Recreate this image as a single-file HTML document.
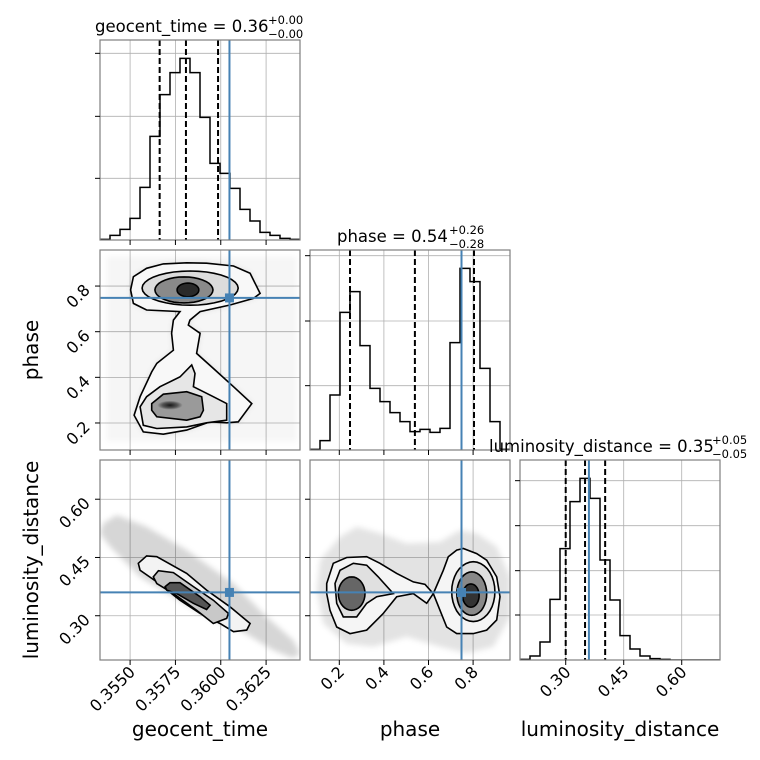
<!DOCTYPE html>
<html><head><meta charset="utf-8"><style>
html,body{margin:0;padding:0;background:#fff;}
svg{display:block;font-family:"DejaVu Sans","Liberation Sans",sans-serif;}
</style></head><body>
<svg id="fig" width="760" height="760" viewBox="0 0 760 760">
<defs>
<filter id="blur4" x="-20%" y="-20%" width="140%" height="140%"><feGaussianBlur stdDeviation="3"/></filter>
<radialGradient id="dens"><stop offset="0" stop-color="#000" stop-opacity="0.85"/><stop offset="0.6" stop-color="#000" stop-opacity="0.45"/><stop offset="1" stop-color="#000" stop-opacity="0"/></radialGradient>
</defs>
</svg>
<script>
// ---------- data ----------
const geoRange=[0.35334,0.36437], phaseRangeX=[0.0686,0.9655], phaseRangeY=[0.0816,0.958], lumRange=[0.1818,0.699], lumRangeY=[0.186,0.701];
const geoCounts=[2,14,32,65,158,311,436,502,545,502,368,230,200,155,92,57,23,14,5,2];
const phaseCounts=[2,28,165,413,475,313,185,145,112,85,55,62,53,65,322,545,505,245,85,2];
const lumCounts=[2,12,54,182,334,475,545,485,300,180,73,33,12,4,2,0,0,0,0,0];
const geoQuant=[0.35663,0.35808,0.35985];
const phaseQuant=[0.248,0.539,0.804];
const lumQuant=[0.300,0.350,0.402];
const truthGeo=0.36048, truthPhase=0.748, truthLum=0.360;
const geoTicks=[0.355,0.3575,0.36,0.3625], geoTickLabels=["0.3550","0.3575","0.3600","0.3625"];
const phaseTicks=[0.2,0.4,0.6,0.8], phaseTickLabels=["0.2","0.4","0.6","0.8"];
const lumTicks=[0.30,0.45,0.60], lumTickLabels=["0.30","0.45","0.60"];
const h1Ticks=[185,371,560], h2Ticks=[193,387,583], h3Ticks=[135,268,403,538];
// contours (data units)
const c21Outer=[[0.35503,0.783],[0.35518,0.841],[0.35591,0.878],[0.35683,0.897],[0.35812,0.902],[0.35922,0.900],[0.36070,0.888],[0.36162,0.856],[0.36217,0.768],[0.36180,0.746],[0.36051,0.717],[0.35886,0.688],[0.35830,0.651],[0.35821,0.629],[0.35886,0.593],[0.35867,0.505],[0.35959,0.439],[0.36070,0.359],[0.36171,0.285],[0.36097,0.205],[0.36033,0.201],[0.35941,0.205],[0.35812,0.169],[0.35683,0.151],[0.35573,0.161],[0.35522,0.234],[0.35555,0.315],[0.35619,0.424],[0.35647,0.461],[0.35739,0.519],[0.35729,0.593],[0.35739,0.651],[0.35775,0.688],[0.35591,0.695],[0.35518,0.724]];
const c21LowMid=[[0.35555,0.271],[0.35591,0.315],[0.35665,0.359],[0.35775,0.402],[0.35840,0.454],[0.35858,0.417],[0.35849,0.359],[0.35959,0.315],[0.36033,0.285],[0.36033,0.212],[0.35922,0.201],[0.35812,0.183],[0.35647,0.176],[0.35573,0.190]];
const c21LowIn=[[0.35619,0.285],[0.35683,0.326],[0.35812,0.337],[0.35895,0.315],[0.35904,0.256],[0.35886,0.227],[0.35812,0.212],[0.35647,0.227],[0.35619,0.256]];
const c21UpEll=[[0.35831,0.791,0.00265,0.075],[0.35797,0.783,0.0016,0.057],[0.35819,0.783,0.0006,0.03]];
const c31Cloud=[[0.35352,0.538],[0.35426,0.559],[0.35591,0.529],[0.35812,0.469],[0.36070,0.383],[0.36253,0.297],[0.36400,0.237],[0.36437,0.203],[0.36400,0.190],[0.36290,0.211],[0.36106,0.263],[0.35959,0.289],[0.35739,0.349],[0.35555,0.400],[0.35389,0.478],[0.35334,0.512]];
const c31Outer=[[0.35545,0.435],[0.35591,0.454],[0.35647,0.452],[0.35812,0.409],[0.35922,0.366],[0.36051,0.323],[0.36162,0.280],[0.36143,0.263],[0.36070,0.259],[0.35996,0.280],[0.35886,0.306],[0.35775,0.340],[0.35647,0.387],[0.35555,0.417]];
const c31Mid=[[0.35628,0.400],[0.35656,0.416],[0.35739,0.411],[0.35849,0.375],[0.35959,0.340],[0.36042,0.306],[0.36033,0.293],[0.35959,0.280],[0.35867,0.314],[0.35739,0.357],[0.35647,0.383]];
const c31In=[[0.35693,0.375],[0.35720,0.385],[0.35775,0.385],[0.35886,0.349],[0.35941,0.327],[0.35922,0.316],[0.35849,0.332],[0.35757,0.357],[0.35702,0.366]];
const c32Cloud=[[0.1134,0.443],[0.2031,0.503],[0.2779,0.529],[0.3825,0.512],[0.5021,0.486],[0.6515,0.490],[0.7413,0.520],[0.8160,0.512],[0.9057,0.478],[0.9655,0.400],[0.9655,0.297],[0.8907,0.220],[0.7712,0.203],[0.6515,0.220],[0.5021,0.246],[0.3526,0.220],[0.2330,0.228],[0.1284,0.280],[0.0985,0.366]];
const c32Outer=[[0.1433,0.383],[0.1732,0.435],[0.2330,0.450],[0.3227,0.452],[0.3825,0.435],[0.4573,0.409],[0.5320,0.387],[0.5843,0.381],[0.6217,0.357],[0.6665,0.417],[0.6889,0.452],[0.7263,0.469],[0.7562,0.473],[0.8160,0.460],[0.8608,0.443],[0.9057,0.400],[0.9206,0.349],[0.9057,0.289],[0.8608,0.263],[0.8010,0.254],[0.7263,0.254],[0.6815,0.271],[0.6515,0.314],[0.6217,0.357],[0.5918,0.332],[0.5320,0.357],[0.4573,0.349],[0.3974,0.306],[0.3227,0.263],[0.2480,0.254],[0.1882,0.271],[0.1583,0.314],[0.1433,0.357]];
const c32LeftMid=[[0.1807,0.383],[0.2031,0.417],[0.2629,0.435],[0.3227,0.430],[0.3750,0.400],[0.4423,0.357],[0.3675,0.349],[0.3227,0.332],[0.2779,0.297],[0.2181,0.297],[0.1882,0.332]];
const c32Ell=[[0.2554,0.357,0.060,0.043],[0.8010,0.362,0.097,0.077],[0.794,0.357,0.067,0.056],[0.790,0.352,0.037,0.030]];

// ---------- helpers ----------
const svg=document.getElementById('fig');
const NS='http://www.w3.org/2000/svg';
function mk(tag,attrs,parent){const e=document.createElementNS(NS,tag);for(const k in attrs)e.setAttribute(k,attrs[k]);(parent||svg).appendChild(e);return e;}
const S=200;
function lin(r,x0,flip){return v=>flip? x0+(r[1]-v)/(r[1]-r[0])*S : x0+(v-r[0])/(r[1]-r[0])*S;}
const panels={h1:[100,40],h2:[310,250],h3:[520,460],c21:[100,250],c31:[100,460],c32:[310,460]};
let clipN=0;
function panelGroup(key,name){
  const [x0,y0]=panels[key];
  const id='clip'+(clipN++);
  const cp=mk('clipPath',{id:id},svg.querySelector('defs'));
  mk('rect',{x:x0,y:y0,width:S,height:S},cp);
  const g=mk('g',{});
  
  
  const inner=mk('g',{'clip-path':'url(#'+id+')'},g);
  return {g,inner,x0,y0};
}
function grid(P,xs,ys,fx,fy){
  xs.forEach(v=>{const l=mk('line',{x1:fx(v),x2:fx(v),y1:P.y0,y2:P.y0+S,stroke:'#b0b0b0','stroke-width':0.8},P.inner);});
  ys.forEach(v=>{const l=mk('line',{y1:fy(v),y2:fy(v),x1:P.x0,x2:P.x0+S,stroke:'#b0b0b0','stroke-width':0.8},P.inner);});
}
function frameTicks(P,xs,ys,fx,fy){
  mk('rect',{x:P.x0,y:P.y0,width:S,height:S,fill:'none',stroke:'#7f7f7f','stroke-width':1.2},P.g);
  xs.forEach(v=>mk('line',{x1:fx(v),x2:fx(v),y1:P.y0+S,y2:P.y0+S+5,stroke:'#000','stroke-width':1},P.g));
  ys.forEach(v=>mk('line',{x1:P.x0-5,x2:P.x0,y1:fy(v),y2:fy(v),stroke:'#000','stroke-width':1},P.g));
}
function xLabels(P,xs,labels,fx,name){
  xs.forEach((v,i)=>{const ax=fx(v)+6, ay=P.y0+S+13;const t=mk('text',{x:ax,y:ay,'font-size':16,'text-anchor':'end',transform:`rotate(-45 ${ax} ${ay})`},P.g);t.textContent=labels[i];});
}
function yLabels(P,ys,labels,fy,name){
  ys.forEach((v,i)=>{const ax=P.x0-9, ay=fy(v)+5;const t=mk('text',{x:ax,y:ay,'font-size':16,'text-anchor':'end',transform:`rotate(-45 ${ax} ${ay})`},P.g);t.textContent=labels[i];});
}
function poly(P,pts,fx,fy,attrs,name){
  const d=pts.map((p,i)=>(i?'L':'M')+fx(p[0]).toFixed(1)+' '+fy(p[1]).toFixed(1)).join(' ')+' Z';
  const e=mk('path',Object.assign({d:d},attrs),P.inner);
  
  
  return e;
}
function ellPts(c){const a=[];for(let k=0;k<36;k++){const t=k/36*2*Math.PI;a.push([c[0]+c[2]*Math.cos(t),c[1]+c[3]*Math.sin(t)]);}return a;}
function hist(P,counts,range,fx,ymax,quants,truth,tickYs,name){
  const fy=v=>P.y0+S-v/ymax*S;
  const n=counts.length;let d='';
  counts.forEach((c,i)=>{const xa=fx(range[0]+(range[1]-range[0])*i/n), xb=fx(range[0]+(range[1]-range[0])*(i+1)/n);d+=(i?'L':'M')+xa+' '+fy(c)+' L'+xb+' '+fy(c)+' ';});
  const e=mk('path',{d:d,fill:'none',stroke:'#000','stroke-width':1.5},P.inner);
  
  
  quants.forEach(q=>{const l=mk('line',{x1:fx(q),x2:fx(q),y1:P.y0,y2:P.y0+S,stroke:'#000','stroke-width':2,'stroke-dasharray':'6 3'},P.inner);});
  const t=mk('line',{x1:fx(truth),x2:fx(truth),y1:P.y0,y2:P.y0+S,stroke:'#4682b4','stroke-width':2},P.inner);
  
  
  return fy;
}
function truthCross(P,fx,fy,tx,ty){
  const a=mk('line',{x1:fx(tx),x2:fx(tx),y1:P.y0,y2:P.y0+S,stroke:'#4682b4','stroke-width':2},P.inner);
  
  const b=mk('line',{y1:fy(ty),y2:fy(ty),x1:P.x0,x2:P.x0+S,stroke:'#4682b4','stroke-width':2},P.inner);
  
  const m=mk('rect',{x:fx(tx)-4.5,y:fy(ty)-4.5,width:9,height:9,fill:'#4682b4'},P.inner);
  
}
function blob(P,fx,fy,c){
  const cx=fx(c[0]),cy=fy(c[1]),rx=Math.abs(fx(c[0]+c[2])-cx),ry=Math.abs(fy(c[1]+c[3])-cy);
  const e=mk('ellipse',{cx:cx,cy:cy,rx:rx,ry:ry,fill:'url(#dens)'},P.inner);
  
}
const CST={stroke:'#000','stroke-width':1.6};

// ---------- h1 geocent hist ----------
{const P=panelGroup('h1','geocent-time-histogram');const fx=lin(geoRange,P.x0);const fyg=v=>P.y0+S-v/600*S;
 grid(P,geoTicks,h1Ticks,fx,fyg);hist(P,geoCounts,geoRange,fx,600,geoQuant,truthGeo,h1Ticks,'geocent-time-hist-steps');frameTicks(P,geoTicks,h1Ticks,fx,fyg);}
// ---------- h2 phase hist ----------
{const P=panelGroup('h2','phase-histogram');const fx=lin(phaseRangeX,P.x0);const fyg=v=>P.y0+S-v/600*S;
 grid(P,phaseTicks,h2Ticks,fx,fyg);hist(P,phaseCounts,phaseRangeX,fx,600,phaseQuant,truthPhase,h2Ticks,'phase-hist-steps');frameTicks(P,phaseTicks,h2Ticks,fx,fyg);}
// ---------- h3 lum hist ----------
{const P=panelGroup('h3','luminosity-distance-histogram');const fx=lin(lumRange,P.x0);const fyg=v=>P.y0+S-v/600*S;
 grid(P,lumTicks,h3Ticks,fx,fyg);hist(P,lumCounts,lumRange,fx,600,lumQuant,truthLum,h3Ticks,'luminosity-hist-steps');frameTicks(P,lumTicks,h3Ticks,fx,fyg);
 xLabels(P,lumTicks,lumTickLabels,fx,'lum-x-tick-label');}
// ---------- c21 geocent vs phase ----------
{const P=panelGroup('c21','geocent-vs-phase-panel');const fx=lin(geoRange,P.x0),fy=lin(phaseRangeY,P.y0,true);
 grid(P,geoTicks,phaseTicks,fx,fy);
 poly(P,[[0.3537,0.12],[0.3642,0.12],[0.3642,0.93],[0.3537,0.93]],fx,fy,{fill:'#000','fill-opacity':0.035,filter:'url(#blur4)'},'scatter-cloud');
 poly(P,c21Outer,fx,fy,{fill:'#000','fill-opacity':0.1,filter:'url(#blur4)'},'scatter-cloud-dense');
 poly(P,c21Outer,fx,fy,Object.assign({fill:'#f8f8f8'},CST),'contour-outer');
 poly(P,c21LowMid,fx,fy,Object.assign({fill:'#e6e6e6'},CST),'contour-lower-mid');
 poly(P,c21LowIn,fx,fy,Object.assign({fill:'#9a9a9a'},CST),'contour-lower-inner');
 poly(P,ellPts(c21UpEll[0]),fx,fy,Object.assign({fill:'#dcdcdc'},CST),'contour-upper-mid');
 poly(P,ellPts(c21UpEll[1]),fx,fy,Object.assign({fill:'#8a8a8a'},CST),'contour-upper-inner');
 poly(P,ellPts(c21UpEll[2]),fx,fy,Object.assign({fill:'#2a2a2a'},CST),'contour-upper-core');
 blob(P,fx,fy,[0.3572,0.278,0.0007,0.02]);
 truthCross(P,fx,fy,truthGeo,truthPhase);
 frameTicks(P,geoTicks,phaseTicks,fx,fy);yLabels(P,phaseTicks,phaseTickLabels,fy,'phase-y-tick-label');}
// ---------- c31 geocent vs lum ----------
{const P=panelGroup('c31','geocent-vs-luminosity-panel');const fx=lin(geoRange,P.x0),fy=lin(lumRangeY,P.y0,true);
 grid(P,geoTicks,lumTicks,fx,fy);
 poly(P,c31Cloud,fx,fy,{fill:'#000','fill-opacity':0.16,filter:'url(#blur4)'},'scatter-cloud');
 poly(P,c31Outer,fx,fy,Object.assign({fill:'#f3f3f3'},CST),'contour-outer');
 poly(P,c31Mid,fx,fy,Object.assign({fill:'#c8c8c8'},CST),'contour-mid');
 poly(P,c31In,fx,fy,Object.assign({fill:'#555'},CST),'contour-inner');
 truthCross(P,fx,fy,truthGeo,truthLum);
 frameTicks(P,geoTicks,lumTicks,fx,fy);
 xLabels(P,geoTicks,geoTickLabels,fx,'geocent-x-tick-label');yLabels(P,lumTicks,lumTickLabels,fy,'lum-y-tick-label');}
// ---------- c32 phase vs lum ----------
{const P=panelGroup('c32','phase-vs-luminosity-panel');const fx=lin(phaseRangeX,P.x0),fy=lin(lumRangeY,P.y0,true);
 grid(P,phaseTicks,lumTicks,fx,fy);
 poly(P,c32Cloud,fx,fy,{fill:'#000','fill-opacity':0.11,filter:'url(#blur4)'},'scatter-cloud');
 poly(P,c32Outer,fx,fy,Object.assign({fill:'#f5f5f5'},CST),'contour-outer');
 poly(P,c32LeftMid,fx,fy,Object.assign({fill:'#e0e0e0'},CST),'contour-left-mid');
 poly(P,ellPts(c32Ell[0]),fx,fy,Object.assign({fill:'#666'},CST),'contour-left-inner');
 poly(P,ellPts(c32Ell[1]),fx,fy,Object.assign({fill:'#e0e0e0'},CST),'contour-right-mid');
 poly(P,ellPts(c32Ell[2]),fx,fy,Object.assign({fill:'#888'},CST),'contour-right-inner');
 poly(P,ellPts(c32Ell[3]),fx,fy,Object.assign({fill:'#333'},CST),'contour-right-core');
 truthCross(P,fx,fy,truthPhase,truthLum);
 frameTicks(P,phaseTicks,lumTicks,fx,fy);
 xLabels(P,phaseTicks,phaseTickLabels,fx,'phase-x-tick-label');}
</script>
<div style="position:absolute;left:0;top:0;width:760px;height:760px;pointer-events:none;">
<svg width="760" height="760" style="position:absolute;left:0;top:0" font-family="DejaVu Sans, Liberation Sans, sans-serif">
<text x="95" y="32" font-size="16.5">geocent_time = 0.36</text>
<text x="268" y="24" font-size="11.5">+0.00</text>
<text x="268" y="38" font-size="11.5">−0.00</text>
<text x="337" y="242" font-size="16.5">phase = 0.54</text>
<text x="449" y="234" font-size="11.5">+0.26</text>
<text x="449" y="248" font-size="11.5">−0.28</text>
<text x="489" y="452" font-size="16.5">luminosity_distance = 0.35</text>
<text x="712" y="444" font-size="11.5">+0.05</text>
<text x="712" y="458" font-size="11.5">−0.05</text>
<text x="200" y="736" font-size="20" text-anchor="middle">geocent_time</text>
<text x="410" y="736" font-size="20" text-anchor="middle">phase</text>
<text x="620" y="736" font-size="20" text-anchor="middle">luminosity_distance</text>
<text x="38" y="350" font-size="20" text-anchor="middle" transform="rotate(-90 38 350)">phase</text>
<text x="38" y="560" font-size="20" text-anchor="middle" transform="rotate(-90 38 560)">luminosity_distance</text>
</svg></div>
</body></html>
